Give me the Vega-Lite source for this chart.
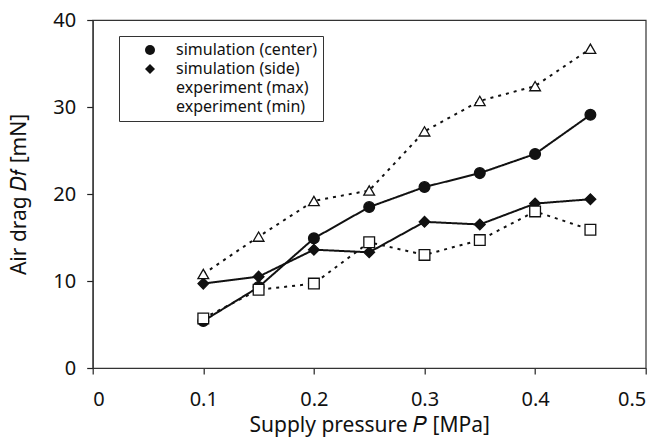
{
  "$schema": "https://vega.github.io/schema/vega-lite/v6.json",
  "width": 553,
  "height": 348,
  "autosize": {"type": "none"},
  "padding": {"left": 92.7, "top": 20, "right": 17.3, "bottom": 72},
  "background": "white",
  "config": {
    "font": "Noto Sans",
    "view": {"stroke": "#333", "strokeWidth": 1.2},
    "axis": {
      "grid": false,
      "domainColor": "#333",
      "domainWidth": 1.2,
      "tickColor": "#222",
      "tickWidth": 1.2,
      "tickSize": 6,
      "labelColor": "#111",
      "titleColor": "#111",
      "labelFontSize": 20,
      "titleFontSize": 21,
      "titleFontWeight": "normal",
      "labelFont": "Noto Sans",
      "titleFont": "Noto Sans"
    }
  },
  "data": {
    "values": [
      {"series": "simulation (center)", "p": 0.10, "drag": 5.4},
      {"series": "simulation (center)", "p": 0.15, "drag": 9.3},
      {"series": "simulation (center)", "p": 0.20, "drag": 14.9},
      {"series": "simulation (center)", "p": 0.25, "drag": 18.5},
      {"series": "simulation (center)", "p": 0.30, "drag": 20.8},
      {"series": "simulation (center)", "p": 0.35, "drag": 22.4},
      {"series": "simulation (center)", "p": 0.40, "drag": 24.6},
      {"series": "simulation (center)", "p": 0.45, "drag": 29.1},
      {"series": "simulation (side)", "p": 0.10, "drag": 9.7},
      {"series": "simulation (side)", "p": 0.15, "drag": 10.5},
      {"series": "simulation (side)", "p": 0.20, "drag": 13.6},
      {"series": "simulation (side)", "p": 0.25, "drag": 13.3},
      {"series": "simulation (side)", "p": 0.30, "drag": 16.8},
      {"series": "simulation (side)", "p": 0.35, "drag": 16.5},
      {"series": "simulation (side)", "p": 0.40, "drag": 18.9},
      {"series": "simulation (side)", "p": 0.45, "drag": 19.4},
      {"series": "experiment (max)", "p": 0.10, "drag": 10.8},
      {"series": "experiment (max)", "p": 0.15, "drag": 15.1},
      {"series": "experiment (max)", "p": 0.20, "drag": 19.2},
      {"series": "experiment (max)", "p": 0.25, "drag": 20.4},
      {"series": "experiment (max)", "p": 0.30, "drag": 27.2},
      {"series": "experiment (max)", "p": 0.35, "drag": 30.7},
      {"series": "experiment (max)", "p": 0.40, "drag": 32.4},
      {"series": "experiment (max)", "p": 0.45, "drag": 36.7},
      {"series": "experiment (min)", "p": 0.10, "drag": 5.7},
      {"series": "experiment (min)", "p": 0.15, "drag": 9.0},
      {"series": "experiment (min)", "p": 0.20, "drag": 9.7},
      {"series": "experiment (min)", "p": 0.25, "drag": 14.45},
      {"series": "experiment (min)", "p": 0.30, "drag": 13.0},
      {"series": "experiment (min)", "p": 0.35, "drag": 14.7},
      {"series": "experiment (min)", "p": 0.40, "drag": 18.0},
      {"series": "experiment (min)", "p": 0.45, "drag": 15.9}
    ]
  },
  "encoding": {
    "x": {
      "field": "p",
      "type": "quantitative",
      "scale": {"domain": [0, 0.5], "nice": false},
      "axis": {
        "tickCount": 5,
        "format": "~g",
        "labelPadding": 15,
        "title": "Supply pressure 𝑃 [MPa]",
        "titlePadding": 5
      }
    },
    "y": {
      "field": "drag",
      "type": "quantitative",
      "scale": {"domain": [0, 40], "nice": false},
      "axis": {
        "tickCount": 4,
        "labelPadding": 11,
        "title": "Air drag 𝐷𝑓 [mN]",
        "titlePadding": 23
      }
    }
  },
  "layer": [
    {
      "mark": {"type": "line", "strokeWidth": 2, "color": "#111"},
      "encoding": {
        "detail": {"field": "series", "type": "nominal"},
        "strokeDash": {
          "condition": {"test": "datum.series === 'simulation (center)' || datum.series === 'simulation (side)'", "value": [1, 0]},
          "value": [3, 5]
        }
      }
    },
    {
      "mark": {"type": "point", "filled": true, "stroke": "#111", "strokeWidth": 1.3, "opacity": 1, "size": 115},
      "encoding": {
        "fill": {
          "field": "series",
          "type": "nominal",
          "scale": {
            "domain": ["simulation (center)", "simulation (side)", "experiment (max)", "experiment (min)"],
            "range": ["#111", "#111", "white", "white"]
          }
        },
        "shape": {
          "field": "series",
          "type": "nominal",
          "scale": {
            "domain": ["simulation (center)", "simulation (side)", "experiment (max)", "experiment (min)"],
            "range": ["circle", "diamond", "triangle-up", "square"]
          },
          "legend": {
            "title": null,
            "orient": "none",
            "legendX": 26.3,
            "legendY": 16,
            "padding": 6,
            "strokeColor": "#333",
            "fillColor": "white",
            "labelFontSize": 16,
            "labelColor": "#111",
            "labelFont": "Noto Sans",
            "symbolSize": 100,
            "symbolOffset": 17,
            "labelOffset": 18,
            "rowPadding": 3,
            "symbolStrokeWidth": 1.5,
            "symbolStrokeColor": "#111",
            "symbolOpacity": 1
          }
        }
      }
    }
  ]
}
